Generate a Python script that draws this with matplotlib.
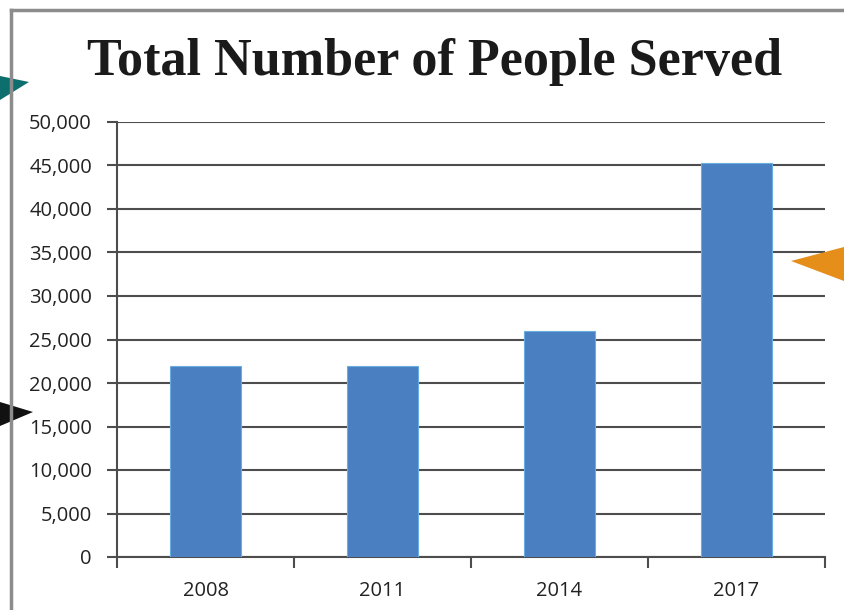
import numpy as np
import matplotlib.pyplot as plt
from matplotlib.patches import Polygon
from matplotlib.lines import Line2D
from matplotlib.ticker import FuncFormatter, FixedLocator

years = ['2008', '2011', '2014', '2017']
people = [22000, 22000, 26000, 45300]
y_ticks = list(range(0, 50001, 5000))

W, H = 844, 610
fig = plt.figure(figsize=(W / 100, H / 100), dpi=100)

def px(x, y):
    return (x / W, 1 - y / H)

ax = fig.add_axes([117 / W, (H - 557) / H, (825 - 117) / W, (557 - 122) / H])

x = np.arange(len(years))
ax.bar(x, people, width=0.4, color='#4a7fc1', edgecolor='#6aaee0', linewidth=0.8, zorder=3)

ax.set_xlim(-0.5, len(years) - 0.5)
ax.set_ylim(0, 50000)
ax.set_yticks(y_ticks)
ax.yaxis.set_major_formatter(FuncFormatter(lambda v, p: f'{int(v):,}'))
ax.grid(axis='y', color='#4d4d4d', linewidth=1.5, zorder=1)

ax.set_xticks(x)
ax.set_xticklabels(years)
ax.xaxis.set_minor_locator(FixedLocator(np.arange(-0.5, len(years), 1.0)))
ax.tick_params(axis='x', which='major', length=0, pad=17)
ax.tick_params(axis='x', which='minor', length=8, width=1.5, color='#4d4d4d', direction='out')
ax.tick_params(axis='y', length=7, width=1.5, color='#4d4d4d', pad=11)

for lbl in ax.get_xticklabels() + ax.get_yticklabels():
    lbl.set_fontfamily('Open Sans')
    lbl.set_fontsize(14.5)
    lbl.set_color('#222222')

for side in ['top', 'right']:
    ax.spines[side].set_visible(False)
for side in ['left', 'bottom']:
    ax.spines[side].set_color('#4d4d4d')
    ax.spines[side].set_linewidth(1.5)

fig.text(435 / W, 1 - 62 / H, 'Total Number of People Served', ha='center', va='center',
         fontfamily='Liberation Serif', fontweight='bold', fontsize=37.5, color='#1a1a1a')

# frame around the figure
fig.add_artist(Line2D([11 / W, 11 / W], [0, 1 - 10 / H], color='#8c8c8c', linewidth=2.5))
fig.add_artist(Line2D([11 / W, 1], [1 - 10 / H, 1 - 10 / H], color='#8c8c8c', linewidth=2.5))

# decorative arrow tips
arrows = [
    ([(0, 76), (29, 82), (0, 100)], '#0d6e6e'),
    ([(0, 402), (33, 412), (0, 426)], '#111111'),
    ([(844, 247), (791, 261), (844, 281)], '#e58e1a'),
]
for pts, col in arrows:
    fig.add_artist(Polygon([px(a, b) for a, b in pts], closed=True, transform=fig.transFigure,
                           facecolor=col, edgecolor='none'))

fig.savefig('out.png', dpi=100)
